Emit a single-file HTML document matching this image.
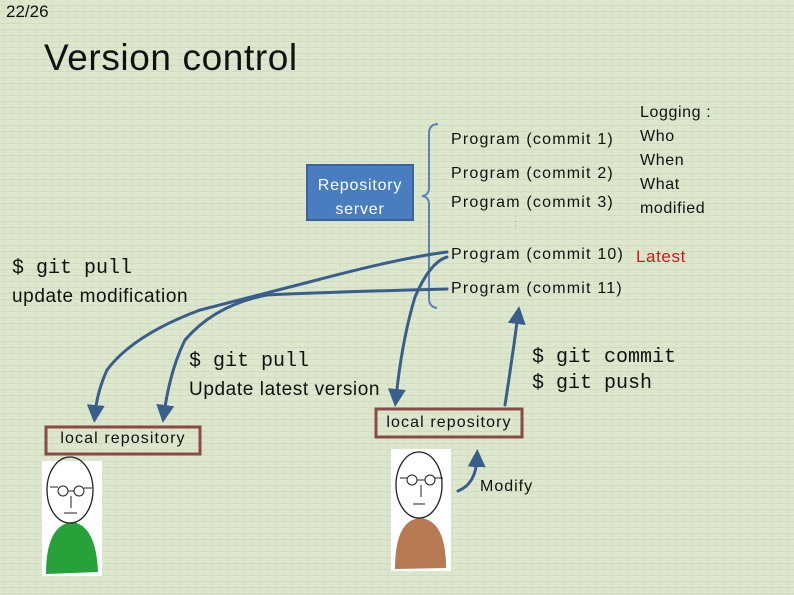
<!DOCTYPE html>
<html><head><meta charset="utf-8"><style>
body{margin:0;width:794px;height:595px;overflow:hidden;background:#dde7cd;font-family:"Liberation Sans","Noto Sans CJK JP",sans-serif;}
.t{position:absolute;white-space:nowrap;color:#111;}
.m{font-family:"Liberation Mono","DejaVu Sans Mono",monospace;}
.p{font-size:16px;letter-spacing:1.2px}
</style></head><body>
<svg width="794" height="595" style="position:absolute;left:0;top:0">
<defs>
<pattern id="br" width="16" height="6" patternUnits="userSpaceOnUse">
<rect width="16" height="6" fill="#dde7cd"/>
<path d="M0 5.5H16M4 0V3M12 3V6" stroke="#cfdcbf" stroke-width="1"/>
</pattern>
<marker id="ah" markerWidth="6" markerHeight="6" refX="3" refY="3" orient="auto" markerUnits="strokeWidth"><path d="M0,0 L6,3 L0,6 z" fill="#3a5e8c"/></marker>
</defs>
<rect width="794" height="595" fill="url(#br)"/>
<rect x="307" y="165" width="106" height="55" fill="#4a7dbf" stroke="#3a64a0" stroke-width="2"/>
<path d="M438 124 Q429 124 429 134 V188 Q429 195 422 196 Q429 197 429 204 V298 Q429 307 437 308" fill="none" stroke="#5b83b8" stroke-width="2"/>
<g fill="none" stroke="#3a5e8c" stroke-width="3" stroke-linecap="round">
<path d="M447 252 Q400 258 317 280 Q240 300 200 310 Q133 335 107 370 Q97 392 95 414" marker-end="url(#ah)"/>
<path d="M447 289 Q330 292 267 295 Q215 305 185 340 Q170 370 164 414" marker-end="url(#ah)"/>
<path d="M447 257 Q430 262 415 297 Q402 340 396 398" marker-end="url(#ah)"/>
<path d="M505 405 Q512 360 518 315" marker-end="url(#ah)"/>
<path d="M458 491 Q476 484 477 458" marker-end="url(#ah)"/>
</g>
<rect x="46" y="427" width="154" height="27" fill="none" stroke="#8a4a45" stroke-width="3"/>
<rect x="376" y="409" width="146" height="28" fill="none" stroke="#8a4a45" stroke-width="3"/>
<g>
<rect x="42" y="461" width="60" height="115" fill="#fff"/>
<path d="M46 574 Q46 525 72 522 Q96 525 98 572 Z" fill="#27a23a"/>
<ellipse cx="70" cy="490" rx="23" ry="33" fill="none" stroke="#222" stroke-width="1.3"/>
<circle cx="63" cy="491" r="5" fill="none" stroke="#222"/><circle cx="79" cy="491" r="5" fill="none" stroke="#222"/>
<path d="M68 491H74M71 496V508M64 513H77M50 487H58M84 488H92" stroke="#222" fill="none"/>
<rect x="391" y="449" width="60" height="122" fill="#fff"/>
<path d="M395 569 Q395 520 420 518 Q446 520 446 568 Z" fill="#b77a52"/>
<ellipse cx="419" cy="485" rx="23" ry="33" fill="none" stroke="#222" stroke-width="1.3"/>
<circle cx="412" cy="480" r="5" fill="none" stroke="#222"/><circle cx="430" cy="480" r="5" fill="none" stroke="#222"/>
<path d="M417 480H425M421 485V497M413 504H425M400 478H407M435 478H443" stroke="#222" fill="none"/>
</g>
</svg>
<div class="t" style="left:6px;top:2px;font-size:17px">22/26</div>
<div class="t" style="left:44px;top:37px;font-size:37px;letter-spacing:0.6px">Version control</div>
<div class="t" style="left:307px;top:174px;width:106px;text-align:center;color:#fff;font-size:16px;line-height:24px;letter-spacing:0.8px;white-space:normal">Repository<br>server</div>
<div class="t p" style="left:451px;top:131px">Program (commit 1)</div>
<div class="t p" style="left:451px;top:165px">Program (commit 2)</div>
<div class="t p" style="left:451px;top:194px">Program (commit 3)</div>
<div class="t" style="left:514px;top:218px;font-size:9px;color:#888">:</div>
<div class="t p" style="left:451px;top:246px">Program (commit 10)</div>
<div class="t" style="left:636px;top:247px;font-size:17px;letter-spacing:0.6px;color:#d01a1a">Latest</div>
<div class="t p" style="left:451px;top:280px">Program (commit 11)</div>
<div class="t" style="left:640px;top:101px;font-size:16px;line-height:24px;letter-spacing:0.6px">Logging :<br>Who<br>When<br>What<br>modified</div>
<div class="t m" style="left:12px;top:257px;font-size:20px">$ git pull</div>
<div class="t" style="left:12px;top:286px;font-size:19px;letter-spacing:0.6px">update modification</div>
<div class="t m" style="left:189px;top:350px;font-size:20px">$ git pull</div>
<div class="t" style="left:189px;top:379px;font-size:19px;letter-spacing:0.6px">Update latest version</div>
<div class="t m" style="left:532px;top:345px;font-size:20px;line-height:26px">$ git commit<br>$ git push</div>
<div class="t" style="left:46px;top:430px;width:154px;text-align:center;font-size:16px;letter-spacing:1.1px">local repository</div>
<div class="t" style="left:376px;top:414px;width:146px;text-align:center;font-size:16px;letter-spacing:1.1px">local repository</div>
<div class="t" style="left:480px;top:478px;font-size:16px;letter-spacing:1px">Modify</div>
</body></html>
